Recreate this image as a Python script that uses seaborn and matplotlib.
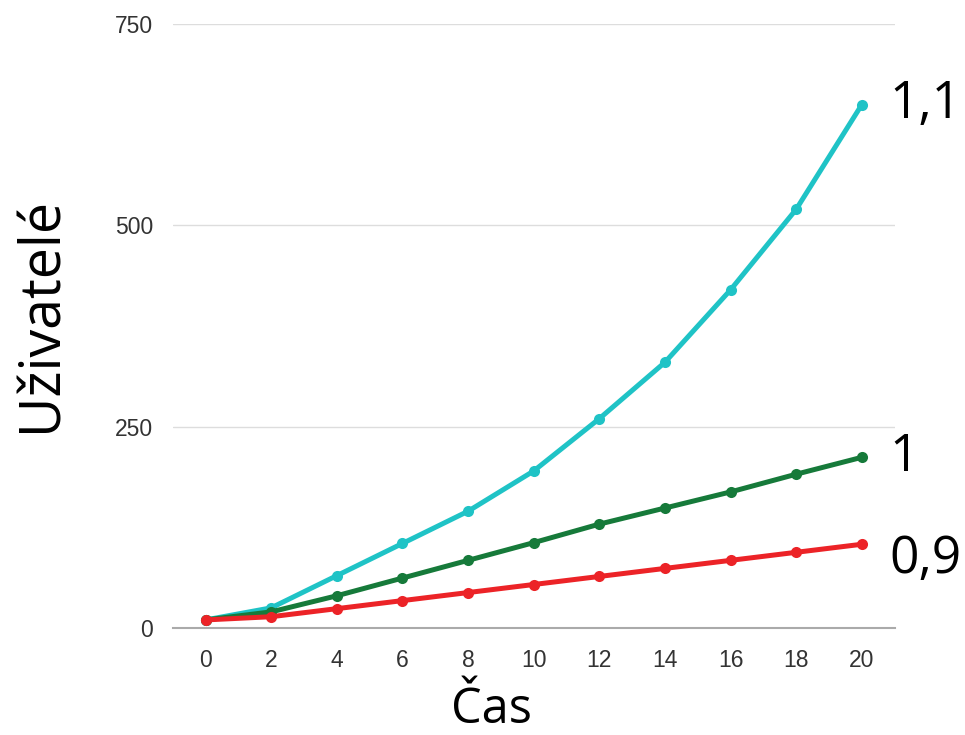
import matplotlib
matplotlib.use("Agg")
import matplotlib.pyplot as plt
import seaborn as sns
import pandas as pd

cas = [0, 2, 4, 6, 8, 10, 12, 14, 16, 18, 20]
rada_11 = [10, 25, 65, 105, 145, 195, 260, 330, 420, 520, 650]
rada_1 = [10, 20, 40, 62, 84, 106, 129, 149, 169, 191, 212]
rada_09 = [10, 14, 24, 34, 44, 54, 64, 74, 84, 94, 104]
nazvy = ["1,1", "1", "0,9"]
barvy = ["#1fc3c6", "#167a3a", "#ec2327"]
y_ticks = [0, 250, 500, 750]
x_ticks = cas

df = pd.concat([
    pd.DataFrame({"Čas": cas, "Uživatelé": vals, "k": name})
    for name, vals in zip(nazvy, [rada_11, rada_1, rada_09])
])

sns.set_theme(style="white")
plt.rcParams["font.family"] = ["Open Sans", "DejaVu Sans"]

fig = plt.figure(figsize=(9.65, 7.35), dpi=100)
ax = fig.add_axes([0.179, 0.1456, 0.748, 0.8214])

sns.lineplot(data=df, x="Čas", y="Uživatelé", hue="k", hue_order=nazvy,
             palette=barvy, marker="o", markersize=8, markeredgewidth=0,
             linewidth=3.6, legend=False, ax=ax)

ax.set_xlim(-1, 21)
ax.set_ylim(0, 750)
ax.set_yticks(y_ticks)
ax.set_xticks(x_ticks)
ax.grid(axis="y", color="#dddddd", linewidth=1)
for s in ["top", "right", "left"]:
    ax.spines[s].set_visible(False)
ax.spines["bottom"].set_color("#aaaaaa")
ax.spines["bottom"].set_linewidth(1.5)
ax.tick_params(axis="both", length=0)
ax.tick_params(axis="y", pad=14)
ax.tick_params(axis="x", pad=15)
for lab in ax.get_xticklabels() + ax.get_yticklabels():
    lab.set_fontfamily(["Liberation Sans", "DejaVu Sans"])
    lab.set_fontsize(16.5)
    lab.set_color("#333333")

ax.set_xlabel("Čas", fontsize=35, labelpad=10, color="black", x=0.442)
ax.set_ylabel("Uživatelé", fontsize=40, labelpad=32, color="black", y=0.52)

posuny = [0, 0, -11]
for name, vals, dy in zip(nazvy, [rada_11, rada_1, rada_09], posuny):
    ax.annotate(name, xy=(cas[-1], vals[-1]), xytext=(20, dy),
                textcoords="offset points", fontsize=37, va="center",
                ha="left", color="black", annotation_clip=False)

fig.savefig("out.png", dpi=100)
